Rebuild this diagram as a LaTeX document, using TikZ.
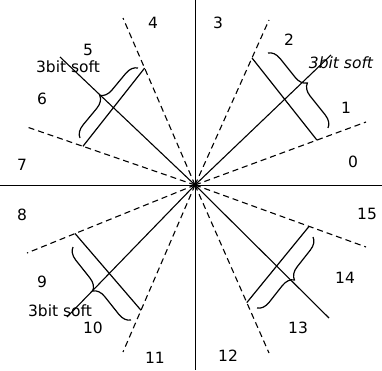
\documentclass[tikz,border=0pt]{standalone}
\usepackage{fontspec}
\setmainfont{DejaVu Sans}
\usetikzlibrary{calc,decorations.pathreplacing}

\begin{document}
\begin{tikzpicture}[
    x=1pt, y=-1pt,
    lbl/.style={font=\fontsize{15.5}{16}\selectfont, inner sep=0pt},
    axis/.style={line width=0.9pt},
    border/.style={line width=1.1pt, dash pattern=on 6pt off 4pt},
    ray/.style={line width=1.1pt},
    cut/.style={line width=1.2pt},
    bracket/.style={line width=1.2pt, decorate, decoration={brace, amplitude=12pt}}
]
\useasboundingbox (0,0) rectangle (382,370);

% centre and axes
\coordinate (C) at (195,185);
\coordinate (E) at (382,185);
\coordinate (W) at (0,185);
\coordinate (N) at (195,0);
\coordinate (S) at (195,370);
\draw[axis] (W) -- (E);
\draw[axis] (N) -- (S);

% sector borders (dashed)
\coordinate (b01) at (366,122);
\coordinate (b23) at (269,20);
\coordinate (b45) at (123,18);
\coordinate (b67) at (27,127);
\coordinate (b89) at (27,253);
\coordinate (b1011) at (123,352);
\coordinate (b1213) at (269,353);
\coordinate (b1415) at (366,247);
\foreach \b in {b01,b23,b45,b67,b89,b1011,b1213,b1415}
    \draw[border] (C) -- (\b);

% middle rays
\coordinate (m12) at (331,55);
\coordinate (m56) at (60,57);
\coordinate (m910) at (67,317);
\coordinate (m1314) at (329,318);
\foreach \m in {m12,m56,m910,m1314}
    \draw[ray] (C) -- (\m);
\fill (C) circle (1.8);

% cross cuts
\draw[cut] ($(C)!0.77!(b23)$) -- ($(C)!0.713!(b01)$);
\draw[cut] ($(C)!0.70!(b45)$) -- ($(C)!0.667!(b67)$);
\draw[cut] ($(C)!0.714!(b89)$) -- ($(C)!0.75!(b1011)$);
\draw[cut] ($(C)!0.667!(b1415)$) -- ($(C)!0.70!(b1213)$);

% braces
\draw[bracket] (268,53) -- (328,128);
\draw[bracket] (80,138) -- (138,68);
\draw[bracket] (131,320) -- (73,247);
\draw[bracket] (313,237) -- (257,308);

% sector numbers
\node[lbl] (s0) at (353,162) {0};
\node[lbl] (s1) at (346,108) {1};
\node[lbl] (s2) at (289,40) {2};
\node[lbl] (s3) at (218,23) {3};
\node[lbl] (s4) at (153,23) {4};
\node[lbl] (s5) at (88,50) {5};
\node[lbl] (s6) at (42,99) {6};
\node[lbl] (s7) at (22,165) {7};
\node[lbl] (s8) at (22,215) {8};
\node[lbl] (s9) at (42,282) {9};
\node[lbl] (s10) at (93,328) {10};
\node[lbl] (s11) at (155,358) {11};
\node[lbl] (s12) at (228,356) {12};
\node[lbl] (s13) at (298,328) {13};
\node[lbl] (s14) at (345,278) {14};
\node[lbl] (s15) at (367,214) {15};

% soft labels
\node[lbl, font=\fontsize{15.5}{16}\selectfont\itshape] (softA) at (341,63) {3bit soft};
\node[lbl] (softB) at (68,67) {3bit soft};
\node[lbl] (softC) at (60,311) {3bit soft};

\end{tikzpicture}
\end{document}
